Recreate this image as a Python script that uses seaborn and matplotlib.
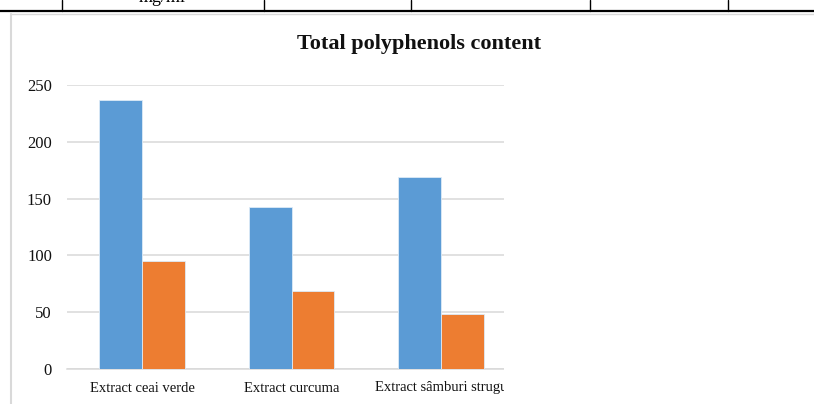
import matplotlib
matplotlib.use("Agg")
import matplotlib.pyplot as plt
import seaborn as sns
import pandas as pd
from matplotlib.lines import Line2D
from matplotlib.patches import Rectangle

# Chart data
categories = ["Extract ceai verde", "Extract curcuma", "Extract sâmburi strugu"]
series_names = ["Seria 1", "Seria 2"]
series_1 = [237, 143, 169]
series_2 = [95, 69, 48]
y_ticks = [0, 50, 100, 150, 200, 250]

df = pd.DataFrame({
    "category": categories * 2,
    "series": [series_names[0]] * 3 + [series_names[1]] * 3,
    "value": series_1 + series_2,
})

sns.set_theme(style="white")
plt.rcParams["font.family"] = ["Liberation Serif", "DejaVu Serif"]

W, H = 814, 404
fig = plt.figure(figsize=(W / 100, H / 100), dpi=100)

# plot area in pixel units -> figure fractions
left_px, right_px, top_px, bottom_px = 67.25, 515.75, 85, 369
ax = fig.add_axes([left_px / W, (H - bottom_px) / H,
                   (right_px - left_px) / W, (bottom_px - top_px) / H])

sns.barplot(data=df, x="category", y="value", hue="series",
            palette=["#5B9BD5", "#ED7D31"], saturation=1, width=0.57, gap=0,
            edgecolor="#DDEBF7", linewidth=0.6, legend=False, ax=ax,
            zorder=3)

ax.set_xlim(-0.5, 2.5)
ax.set_ylim(0, 250)
ax.set_yticks(y_ticks)
ax.set_yticklabels([str(t) for t in y_ticks])
ax.yaxis.grid(True, color="#D9D9D9", linewidth=1.1, zorder=0)
ax.set_axisbelow(True)
for s in ["left", "right", "top"]:
    ax.spines[s].set_visible(False)
ax.spines["bottom"].set_color("#D9D9D9")
ax.spines["bottom"].set_linewidth(1.1)
ax.set_xlabel("")
ax.set_ylabel("")
ax.tick_params(axis="y", length=0, pad=11, labelsize=12, colors="#111111")
ax.tick_params(axis="x", length=0, pad=9, labelsize=10.5, colors="#111111")

# title
fig.text(419 / W, 1 - 44 / H, "Total polyphenols content", ha="center",
         va="center", fontsize=16, fontweight="bold", color="#111111")

# right part of the frame is blanked out
fig.add_artist(Rectangle((504 / W, 0), 1 - 504 / W, 1 - 68 / H,
                         transform=fig.transFigure, facecolor="white",
                         edgecolor="none", zorder=10))

# surrounding document table edge and chart frame
fig.add_artist(Line2D([0, 1], [1 - 10.5 / H] * 2, transform=fig.transFigure,
                      color="black", linewidth=1.6, zorder=11))
for xp in [62, 264, 411, 590, 728]:
    fig.add_artist(Line2D([xp / W] * 2, [1 - 10.5 / H, 1.0],
                          transform=fig.transFigure, color="black",
                          linewidth=1.0, zorder=11))
fig.text(162 / W, 1 - 2 / H, "mg/ml", ha="center", va="baseline",
         fontsize=13, color="black", zorder=11)
fig.add_artist(Line2D([11 / W, 1], [1 - 14 / H] * 2, transform=fig.transFigure,
                      color="#D9D9D9", linewidth=1.0, zorder=11))
fig.add_artist(Line2D([11 / W] * 2, [0, 1 - 14 / H], transform=fig.transFigure,
                      color="#D9D9D9", linewidth=1.5, zorder=11))

fig.savefig("out.png", dpi=100)
